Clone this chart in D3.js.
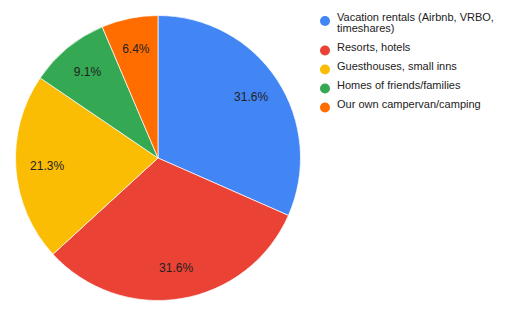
<!DOCTYPE html>
<html>
<head>
<meta charset="utf-8">
<script src="https://cdn.jsdelivr.net/npm/d3@7"></script>
<style>
  body { margin: 0; background: #fff; }
  text { font-family: "Liberation Sans", Arial, sans-serif; }
</style>
</head>
<body>
<div id="chart"></div>
<script>
// chart data
var categories = ["Vacation rentals (Airbnb, VRBO, timeshares)", "Resorts, hotels",
    "Guesthouses, small inns", "Homes of friends/families", "Our own campervan/camping"];
var shares = [31.6, 31.6, 21.3, 9.1, 6.4];
var colors = ["#4285f4", "#ea4335", "#fbbc04", "#34a853", "#ff6d01"];

var width = 512, height = 316;
var cx = 158, cy = 158, radius = 142.5;

var svg = d3.select("#chart").append("svg")
    .attr("width", width)
    .attr("height", height);

var data = categories.map(function(c, i) { return {name: c, value: shares[i], color: colors[i]}; });

var pie = d3.pie().sort(null).value(function(d) { return d.value; });
var arc = d3.arc().innerRadius(0).outerRadius(radius);
var labelArc = d3.arc().innerRadius(radius * 0.78).outerRadius(radius * 0.78);

var g = svg.append("g").attr("transform", "translate(" + cx + "," + cy + ")");

var slices = g.selectAll("g.slice")
    .data(pie(data))
    .enter().append("g").attr("class", "slice");

slices.append("path")
    .attr("d", arc)
    .attr("fill", function(d) { return d.data.color; })
    .attr("stroke", "#fff")
    .attr("stroke-width", 0.7);

slices.append("text")
    .attr("transform", function(d) { return "translate(" + labelArc.centroid(d) + ")"; })
    .attr("text-anchor", "middle")
    .attr("dy", "0.35em")
    .style("font-size", "12px")
    .style("fill", "#222")
    .text(function(d) { return d3.format(".1f")(d.data.value) + "%"; });

// legend
var legend = svg.append("g").attr("transform", "translate(325,21)");
var maxW = 165, lineH = 10.5, y = 0;

data.forEach(function(d) {
    var item = legend.append("g").attr("transform", "translate(0," + y + ")");
    item.append("circle").attr("r", 5).attr("fill", d.color);
    var t = item.append("text")
        .attr("x", 12)
        .attr("dy", "0.35em")
        .style("font-size", "11px")
        .style("fill", "#222");
    // simple word wrap
    var words = d.name.split(" "), line = [], lines = 0;
    var ts = t.append("tspan").attr("x", 12).attr("dy", 0);
    words.forEach(function(w) {
        line.push(w);
        ts.text(line.join(" "));
        if (ts.node().getComputedTextLength() > maxW && line.length > 1) {
            line.pop();
            ts.text(line.join(" "));
            line = [w];
            lines++;
            ts = t.append("tspan").attr("x", 12).attr("dy", lineH).text(w);
        }
    });
    y += 19 + lines * lineH;
});
</script>
</body>
</html>
